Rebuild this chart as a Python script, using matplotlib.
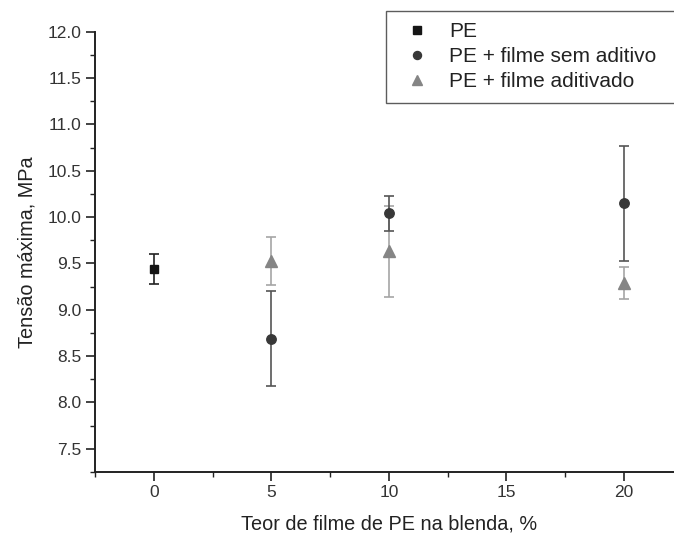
import matplotlib
matplotlib.use("Agg")
import matplotlib.pyplot as plt
from matplotlib.ticker import MultipleLocator

plt.rcParams['font.family'] = ['Liberation Sans', 'DejaVu Sans']

# Data
pe_x = [0]
pe_y = [9.44]
pe_err = [0.16]

sem_x = [5, 10, 20]
sem_y = [8.69, 10.04, 10.15]
sem_err = [0.51, 0.19, 0.62]

adit_x = [5, 10, 20]
adit_y = [9.53, 9.63, 9.29]
adit_err = [0.26, 0.49, 0.17]

x_ticks = [0, 5, 10, 15, 20]
y_ticks = [7.5, 8.0, 8.5, 9.0, 9.5, 10.0, 10.5, 11.0, 11.5, 12.0]

fig = plt.figure(figsize=(6.74, 5.38), dpi=100)
ax = fig.add_axes([95/674, 66/538, (682.75-95)/674, (472-31.7)/538])

ax.errorbar(adit_x, adit_y, yerr=adit_err, fmt='^', color='#858585', ecolor='#a5a5a5',
            elinewidth=1.2, capsize=3.5, capthick=1.2, markersize=8, label='PE + filme aditivado', zorder=3)
ax.errorbar(sem_x, sem_y, yerr=sem_err, fmt='o', color='#383838', ecolor='#555555',
            elinewidth=1.2, capsize=3.5, capthick=1.2, markersize=6.8, label='PE + filme sem aditivo', zorder=4)
ax.errorbar(pe_x, pe_y, yerr=pe_err, fmt='s', color='#151515', ecolor='#222222',
            elinewidth=1.2, capsize=3.5, capthick=1.2, markersize=6, label='PE', zorder=5)

ax.set_xlim(-2.5, 22.5)
ax.set_ylim(7.25, 12.0)
ax.set_xticks(x_ticks)
ax.set_yticks(y_ticks)
ax.set_yticklabels([f"{v:.1f}" for v in y_ticks])
ax.xaxis.set_minor_locator(MultipleLocator(2.5))
ax.yaxis.set_minor_locator(MultipleLocator(0.25))

ax.spines['top'].set_visible(False)
ax.spines['right'].set_visible(False)
for s in ('left', 'bottom'):
    ax.spines[s].set_linewidth(1.4)
    ax.spines[s].set_color('#222222')

ax.tick_params(which='major', direction='out', length=6.5, width=1.2, colors='#222222',
               labelsize=12.5, labelcolor='#333333', pad=3)
ax.tick_params(which='minor', direction='out', length=3.5, width=1.0, colors='#222222')

ax.set_xlabel('Teor de filme de PE na blenda, %', fontsize=14.3, color='#222222', labelpad=10)
ax.set_ylabel('Tensão máxima, MPa', fontsize=14.3, color='#222222', labelpad=8)

handles, labels = ax.get_legend_handles_labels()
order = [2, 1, 0]
leg = fig.legend([handles[i][0] for i in order], [labels[i] for i in order],
                 loc='upper left', bbox_to_anchor=(385.7/674, 1 - 11/538 - 0.3, 310/674, 0.3),
                 mode='expand',
                 fontsize=15.0, frameon=True, fancybox=False, edgecolor='#333333',
                 handlelength=1.95, handletextpad=0.54, borderpad=0.55, labelspacing=0.28,
                 borderaxespad=0, markerscale=0.85)
leg.get_frame().set_linewidth(1.0)
for t in leg.get_texts():
    t.set_color('#222222')

fig.savefig('out.png', dpi=100)
